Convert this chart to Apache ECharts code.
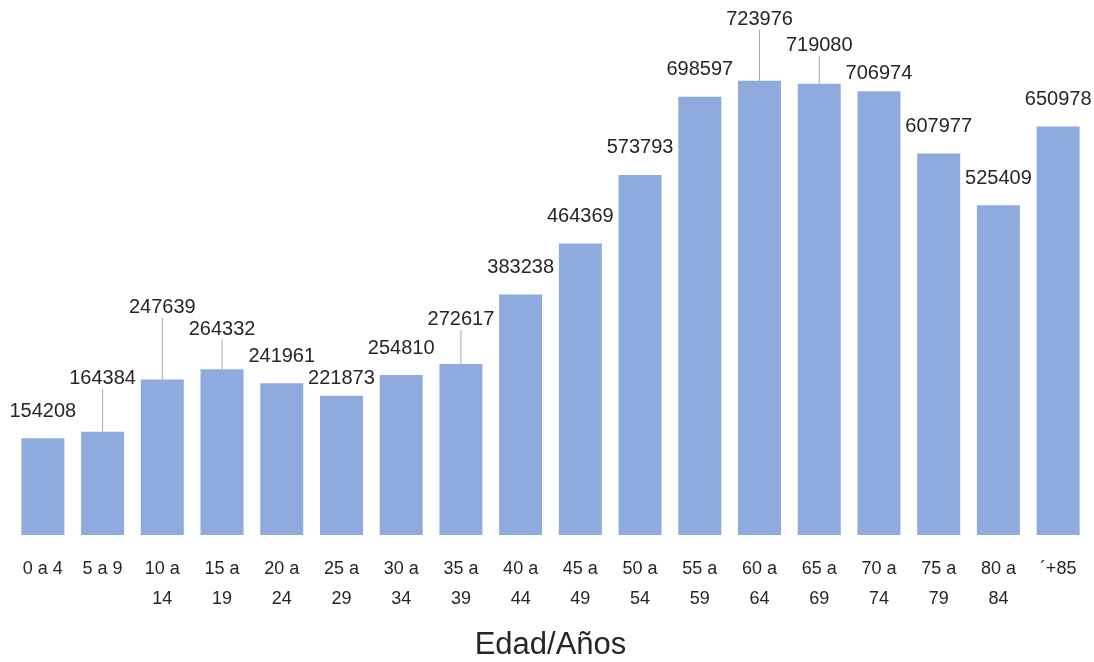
<!DOCTYPE html>
<html>
<head>
<meta charset="utf-8">
<script src="https://cdn.jsdelivr.net/npm/echarts@6/dist/echarts.min.js"></script>
<style>
    html, body { margin: 0; padding: 0; background: #fff; }
    #chart { width: 1094px; height: 662px; }
</style>
</head>
<body>
<div id="chart"></div>
<script>
    const categories = ['0 a 4', '5 a 9', '10 a 14', '15 a 19', '20 a 24', '25 a 29', '30 a 34', '35 a 39', '40 a 44',
        '45 a 49', '50 a 54', '55 a 59', '60 a 64', '65 a 69', '70 a 74', '75 a 79', '80 a 84', '´+85'];
    const poblacion = [154208, 164384, 247639, 264332, 241961, 221873, 254810, 272617, 383238,
        464369, 573793, 698597, 723976, 719080, 706974, 607977, 525409, 650978];
    // etiquetas movidas (las que suben llevan línea guía)
    const labelShift = { 1: -26, 2: -45, 3: -13, 5: 10, 7: -17, 12: -34, 13: -11, 14: 9 };

    const chart = echarts.init(document.getElementById('chart'));
    const font = 'Liberation Sans, Arial, sans-serif';
    const option = {
        animation: false,
        grid: { left: 13, right: 6, top: 33, bottom: 127, outerBoundsMode: 'none' },
        xAxis: {
            type: 'category',
            data: categories,
            axisLine: { show: false },
            axisTick: { show: false },
            axisLabel: {
                interval: 0,
                margin: 19,
                color: '#262626',
                fontFamily: font,
                fontSize: 18,
                lineHeight: 30,
                formatter: function (v) {
                    return v.replace(/^(\d\d) a /, '$1 a\n');
                }
            },
            name: 'Edad/Años',
            nameLocation: 'middle',
            nameGap: 95,
            nameTextStyle: { color: '#262626', fontFamily: font, fontSize: 31 }
        },
        yAxis: {
            type: 'value',
            show: false,
            min: 0,
            max: 800000
        },
        series: [{
            type: 'bar',
            data: poblacion.map((v, i) => ({
                value: v,
                labelLine: { show: labelShift[i] < 0 }
            })),
            barWidth: '72%',
            itemStyle: { color: '#8faadc' },
            label: {
                show: true,
                position: 'top',
                distance: 17,
                color: '#262626',
                fontFamily: font,
                fontSize: 20
            },
            labelLine: {
                show: false,
                lineStyle: { color: '#a6a6a6', width: 1 }
            },
            labelLayout: function (params) {
                const dy = labelShift[params.dataIndex];
                return dy ? { dy: dy } : {};
            }
        }]
    };
    chart.setOption(option);
</script>
</body>
</html>
